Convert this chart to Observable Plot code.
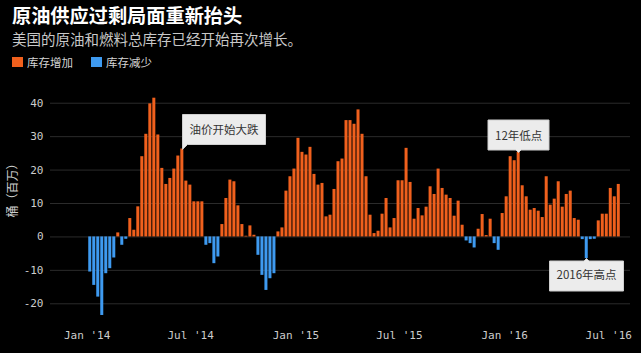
<!DOCTYPE html>
<html><head><meta charset="utf-8">
<script src="https://cdn.jsdelivr.net/npm/d3@7"></script>
<script src="https://cdn.jsdelivr.net/npm/@observablehq/plot@0.6"></script>
<style>
html,body{margin:0;padding:0;background:#000;width:641px;height:353px;overflow:hidden;}
#header{position:relative;height:76px;font-family:"Noto Sans CJK SC",sans-serif;}
#title{position:absolute;left:12px;top:4px;font-size:19.2px;line-height:22px;font-weight:bold;color:#fff;white-space:nowrap;}
#subtitle{position:absolute;left:12px;top:30px;font-size:14.5px;line-height:18px;color:#c8c8c8;white-space:nowrap;}
.lg{position:absolute;top:55px;font-size:11.5px;line-height:14px;color:#d4d4d4;display:flex;align-items:center;white-space:nowrap;}
.sw{width:11px;height:10px;margin-right:4px;}
#chart svg{display:block;}
</style></head><body>
<div id="header">
  <div id="title"></div>
  <div id="subtitle"></div>
  <div class="lg" id="lg0" style="left:12px"><span class="sw"></span><span></span></div>
  <div class="lg" id="lg1" style="left:91px"><span class="sw"></span><span></span></div>
</div>
<div id="chart"></div>
<script>
const titleText = "原油供应过剩局面重新抬头";
const subtitleText = "美国的原油和燃料总库存已经开始再次增长。";
const legendLabels = ["库存增加", "库存减少"];
const yAxisLabel = "桶（百万）";
const firstWeek = "2014-01-03";
const values = [
  -10.5, -14.5, -18, -23.5, -11, -9.5, -6.3, 1.2, -2.5, -0.7,
  5.5, 2, 9, 24, 30.7, 39.8, 41.5, 30.5, 20.5, 15.7,
  17.5, 20.3, 24.2, 26.3, 16.7, 15.5, 10.5, 10.5, 10.5, -2.5,
  -2, -8, -6, 3.7, 11.5, 17, 16.5, 9.3, 3.7, 0.2,
  3.3, 0.5, -5.5, -11.5, -16, -12.5, -11, 1.5, 2.7, 13.7,
  18, 20.3, 29.5, 25.3, 24.5, 26.8, 18.7, 15.5, 16, 6,
  6.5, 14.2, 22.5, 23.3, 34.8, 34.8, 33.7, 38, 30.7, 18,
  6.5, 1, 1.7, 6.8, 11.5, 2.7, 5.5, 16.8, 16.8, 26.5,
  16.3, 5.3, 8.5, 6.3, 8.9, 15, 12.7, 20.3, 14.5, 12.5,
  11.5, 6.2, 10.7, 3.5, -1.2, -2, -3.3, 2.3, 6.7, 0.4,
  5.3, -2, -4, 7, 12, 24, 22.8, 25.3, 15.3, 12,
  8, 8.5, 7.7, 5.8, 18, 9.5, 11.3, 16.5, 8.9, 12.7,
  13.7, 5.5, 5, -0.8, -6.5, -0.8, -0.7, 4.8, 6.8, 6.8,
  14.5, 12, 15.7
];
const yTicks = [-20, -10, 0, 10, 20, 30, 40];
const xTicks = ["2014-01-01", "2014-07-01", "2015-01-01", "2015-07-01", "2016-01-01", "2016-07-01"];
const annoLabels = ["油价开始大跌", "12年低点", "2016年高点"];
const annoWeek = [23, 107, 124];
const annoAnchor = ["bottom-left", "bottom", "top"];

const colorUp = "#f0601d";
const colorDown = "#3e9af0";

document.getElementById("title").textContent = titleText;
document.getElementById("subtitle").textContent = subtitleText;
[colorUp, colorDown].forEach((c, i) => {
  const el = document.getElementById("lg" + i);
  el.children[0].style.background = c;
  el.children[1].textContent = legendLabels[i];
});

const start = new Date(firstWeek);
const data = values.map((v, i) => ({date: d3.utcDay.offset(start, 7 * i), value: v}));
const annos = annoLabels.map((label, k) => ({
  label, anchor: annoAnchor[k],
  x: d3.utcHour.offset(data[annoWeek[k]].date, 84),
  y: data[annoWeek[k]].value
}));

const mono = "DejaVu Sans Mono";
const tipOpts = (a) => ({
  x: "x", y: "y", title: "label", anchor: a.anchor,
  fill: "#ececec", stroke: "#cfcfcf", fontSize: 11.5,
  fontFamily: "Noto Sans CJK SC", textPadding: 7, pointerSize: 5, pathFilter: "none"
});

const chart = Plot.plot({
  width: 641, height: 277,
  marginLeft: 50, marginRight: 11, marginTop: 10, marginBottom: 33,
  style: {background: "#000", color: "#333"},
  x: {type: "utc", domain: [new Date("2013-10-29"), new Date("2016-08-08")]},
  y: {domain: [-25, 45]},
  marks: [
    Plot.ruleY(yTicks, {stroke: "#2b2b2b"}),
    Plot.rect(data.filter(d => d.value >= 0), {
      x1: "date", x2: d => d3.utcDay.offset(d.date, 7), y1: 0, y2: "value",
      fill: colorUp, insetLeft: 0.5, insetRight: 0.5
    }),
    Plot.rect(data.filter(d => d.value < 0), {
      x1: "date", x2: d => d3.utcDay.offset(d.date, 7), y1: 0, y2: "value",
      fill: colorDown, insetLeft: 0.5, insetRight: 0.5
    }),
    Plot.axisY({ticks: yTicks, tickSize: 0, tickPadding: 7, tickFormat: d => String(d),
      fontSize: 11, fontFamily: mono, color: "#cccccc", label: null}),
    Plot.axisX({ticks: xTicks.map(d => new Date(d)), tickSize: 0, tickPadding: 11,
      tickFormat: d3.utcFormat("%b '%y"), fontSize: 11, fontFamily: mono, color: "#cccccc", label: null}),
    Plot.text([yAxisLabel], {frameAnchor: "left", dx: -37, dy: 14, rotate: -90,
      fill: "#cccccc", fontSize: 12, fontFamily: "Noto Sans CJK SC"}),
    ...annos.map(a => Plot.tip([a], tipOpts(a)))
  ]
});
document.getElementById("chart").appendChild(chart);
</script>
</body></html>
